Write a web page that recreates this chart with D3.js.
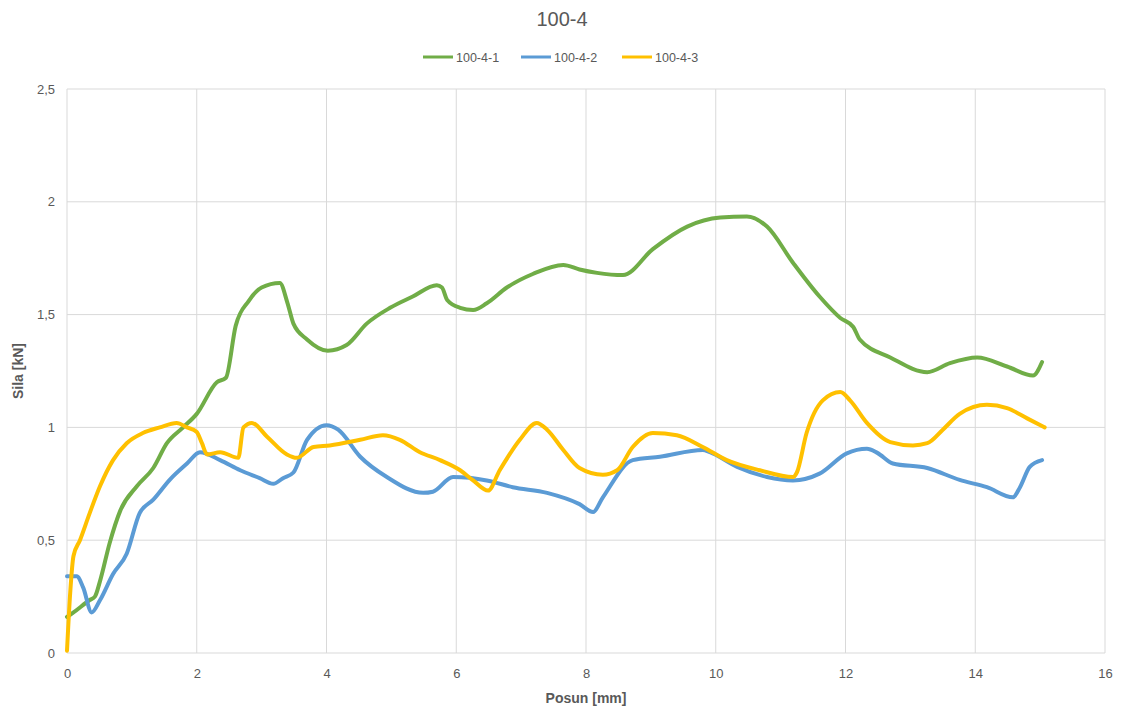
<!DOCTYPE html>
<html>
<head>
<meta charset="utf-8">
<script src="https://cdn.jsdelivr.net/npm/d3@7"></script>
<style>
  body { margin: 0; background: #fff; }
  svg { display: block; font-family: "Liberation Sans", "DejaVu Sans", sans-serif; }
</style>
</head>
<body>
<svg id="chart" width="1124" height="711"></svg>
<script>
// series data: [posun mm, sila kN]
const seriesNames = ["100-4-1", "100-4-2", "100-4-3"];
const seriesColors = ["#70AD47", "#5B9BD5", "#FFC000"];

const s1 = [
  [0, 0.16], [0.1, 0.18], [0.35, 0.235], [0.43, 0.25], [0.51, 0.32], [0.66, 0.49], [0.82, 0.63],
  [1.08, 0.74], [1.33, 0.82], [1.54, 0.93], [1.79, 1.0], [2.0, 1.06], [2.31, 1.2], [2.45, 1.22],
  [2.6, 1.45], [2.8, 1.56], [3.0, 1.62], [3.28, 1.64], [3.4, 1.55], [3.49, 1.46], [3.7, 1.39],
  [4.02, 1.34], [4.31, 1.365], [4.62, 1.46], [4.98, 1.53], [5.33, 1.58], [5.7, 1.63], [5.78, 1.62],
  [5.86, 1.565], [6.06, 1.53], [6.26, 1.52], [6.47, 1.55], [6.78, 1.62], [7.18, 1.68], [7.65, 1.72],
  [7.9, 1.70], [8.17, 1.685], [8.57, 1.675], [9.03, 1.79], [9.56, 1.89], [10.07, 1.93], [10.48, 1.935],
  [10.79, 1.89], [11.19, 1.73], [11.6, 1.58], [11.92, 1.485], [12.12, 1.445], [12.22, 1.39],
  [12.69, 1.31], [13.26, 1.245], [13.61, 1.285], [14.03, 1.31], [14.49, 1.27], [14.89, 1.23], [15.03, 1.29]
];

const s2 = [
  [0, 0.34], [0.15, 0.34], [0.25, 0.29], [0.38, 0.18], [0.51, 0.235], [0.71, 0.35], [0.92, 0.44],
  [1.12, 0.62], [1.33, 0.68], [1.59, 0.77], [1.85, 0.84], [2.05, 0.89], [2.36, 0.855], [2.67, 0.81],
  [2.97, 0.775], [3.18, 0.75], [3.33, 0.775], [3.49, 0.8], [3.7, 0.945], [4.0, 1.01], [4.18, 0.99],
  [4.52, 0.87], [4.93, 0.78], [5.49, 0.71], [5.64, 0.715], [5.95, 0.78], [6.47, 0.765], [6.87, 0.735],
  [7.4, 0.71], [7.9, 0.66], [8.11, 0.625], [8.26, 0.69], [8.72, 0.855], [9.14, 0.87], [9.8, 0.9],
  [9.91, 0.89], [10.33, 0.825], [10.79, 0.78], [11.19, 0.765], [11.6, 0.795], [12.02, 0.885],
  [12.33, 0.905], [12.49, 0.887], [12.73, 0.84], [13.26, 0.82], [13.76, 0.767], [14.18, 0.735],
  [14.58, 0.69], [14.69, 0.735], [14.84, 0.825], [15.03, 0.855]
];

const s3 = [
  [0, 0.01], [0.05, 0.27], [0.1, 0.43], [0.2, 0.5], [0.35, 0.62], [0.51, 0.74], [0.71, 0.855],
  [0.92, 0.93], [1.17, 0.975], [1.43, 1.0], [1.69, 1.02], [1.85, 1.0], [2.0, 0.98], [2.08, 0.93],
  [2.16, 0.88], [2.36, 0.89], [2.64, 0.865], [2.72, 1.0], [2.85, 1.02], [3.08, 0.96], [3.39, 0.88],
  [3.54, 0.865], [3.8, 0.913], [4.05, 0.92], [4.52, 0.945], [4.87, 0.965], [5.13, 0.945], [5.44, 0.89],
  [5.75, 0.855], [6.06, 0.81], [6.26, 0.765], [6.49, 0.72], [6.67, 0.81], [6.98, 0.945], [7.24, 1.02],
  [7.4, 0.99], [7.65, 0.9], [7.9, 0.82], [8.26, 0.79], [8.48, 0.81], [8.72, 0.913], [9.03, 0.975],
  [9.4, 0.965], [9.8, 0.913], [10.17, 0.855], [10.68, 0.81], [11.19, 0.78], [11.25, 0.8], [11.4, 0.975],
  [11.65, 1.12], [11.92, 1.157], [12.07, 1.12], [12.33, 1.02], [12.69, 0.935], [13.04, 0.92],
  [13.26, 0.93], [13.5, 0.99], [13.76, 1.06], [14.18, 1.1], [14.49, 1.085], [14.8, 1.04], [15.07, 1.0]
];

const xTicks = [0, 2, 4, 6, 8, 10, 12, 14, 16];
const yTicks = [0, 0.5, 1, 1.5, 2, 2.5];

const svg = d3.select("#chart");
const margin = { left: 67, right: 19, top: 89, bottom: 58 };
const W = 1124, H = 711;

const x = d3.scaleLinear().domain([0, 16]).range([margin.left, W - margin.right]);
const y = d3.scaleLinear().domain([0, 2.5]).range([H - margin.bottom, margin.top]);
const fmt = d => String(d).replace(".", ",");

// gridlines
svg.append("g").selectAll("line").data(xTicks).join("line")
  .attr("x1", d => x(d)).attr("x2", d => x(d))
  .attr("y1", y(0)).attr("y2", y(2.5))
  .attr("stroke", "#d9d9d9").attr("stroke-width", 1);
svg.append("g").selectAll("line").data(yTicks).join("line")
  .attr("x1", x(0)).attr("x2", x(16))
  .attr("y1", d => y(d)).attr("y2", d => y(d))
  .attr("stroke", "#d9d9d9").attr("stroke-width", 1);

// axes (labels only)
const xAxis = svg.append("g").attr("transform", `translate(0,${y(0)})`)
  .call(d3.axisBottom(x).tickValues(xTicks).tickFormat(fmt).tickSize(0).tickPadding(16));
const yAxis = svg.append("g").attr("transform", `translate(${x(0)},0)`)
  .call(d3.axisLeft(y).tickValues(yTicks).tickFormat(fmt).tickSize(0).tickPadding(12));
[xAxis, yAxis].forEach(a => {
  a.select(".domain").remove();
  a.selectAll("text").attr("fill", "#595959").attr("font-size", 13)
    .attr("font-family", "'Liberation Sans', sans-serif");
});

// lines
const line = d3.line().x(d => x(d[0])).y(d => y(d[1])).curve(d3.curveMonotoneX);
const allSeries = [s1, s2, s3];
// draw yellow behind blue behind green? Excel draws in order: 1, 2, 3
allSeries.forEach((s, i) => {
  svg.append("path").datum(s)
    .attr("d", line)
    .attr("fill", "none")
    .attr("stroke", seriesColors[i])
    .attr("stroke-width", 4)
    .attr("stroke-linejoin", "round")
    .attr("stroke-linecap", "round");
});

// title
svg.append("text").attr("x", 562).attr("y", 26).attr("text-anchor", "middle")
  .attr("font-size", 20).attr("fill", "#595959").text("100-4");

// legend
const legendX = [423, 521, 622];
const lg = svg.append("g");
seriesNames.forEach((n, i) => {
  lg.append("line").attr("x1", legendX[i]).attr("x2", legendX[i] + 30)
    .attr("y1", 57).attr("y2", 57).attr("stroke", seriesColors[i]).attr("stroke-width", 3);
  lg.append("text").attr("x", legendX[i] + 33).attr("y", 61.5)
    .attr("font-size", 12.5).attr("fill", "#595959").text(n);
});

// axis titles
svg.append("text").attr("x", x(8)).attr("y", 703).attr("text-anchor", "middle")
  .attr("font-size", 14).attr("font-weight", "bold").attr("fill", "#595959").text("Posun [mm]");
svg.append("text").attr("transform", `translate(23,${y(1.25)}) rotate(-90)`)
  .attr("text-anchor", "middle")
  .attr("font-size", 14).attr("font-weight", "bold").attr("fill", "#595959").text("Sila [kN]");
</script>
</body>
</html>
